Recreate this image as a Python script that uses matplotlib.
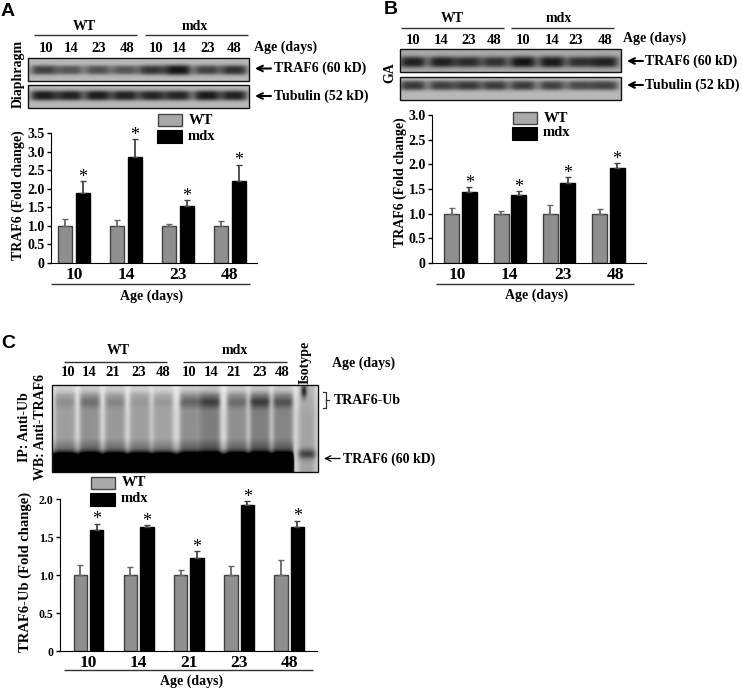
"""Western blot panels with fold change bars (A diaphragm, B GA, C ubiquitination)."""
import numpy as np
import matplotlib
matplotlib.use("Agg")
import matplotlib.pyplot as plt
from matplotlib.patches import Rectangle

plt.rcParams["font.family"] = ["Liberation Serif", "DejaVu Serif"]

W, H = 742, 690

# panel A
ages_a = ["10", "14", "23", "48"]
wt_a = [1.0, 1.0, 1.0, 1.0]
wt_a_err = [0.18, 0.15, 0.05, 0.12]
mdx_a = [1.88, 2.85, 1.53, 2.2]
mdx_a_err = [0.32, 0.48, 0.17, 0.45]
yticks_a = [0, 0.5, 1.0, 1.5, 2.0, 2.5, 3.0, 3.5]

# panel B
ages_b = ["10", "14", "23", "48"]
wt_b = [1.0, 1.0, 1.0, 1.0]
wt_b_err = [0.12, 0.05, 0.18, 0.1]
mdx_b = [1.43, 1.38, 1.62, 1.92]
mdx_b_err = [0.11, 0.07, 0.13, 0.11]
yticks_b = [0, 0.5, 1.0, 1.5, 2.0, 2.5, 3.0]

# panel C
ages_c = ["10", "14", "21", "23", "48"]
wt_c = [1.0, 1.0, 1.0, 1.0, 1.0]
wt_c_err = [0.13, 0.11, 0.07, 0.12, 0.2]
mdx_c = [1.6, 1.63, 1.22, 1.93, 1.63]
mdx_c_err = [0.08, 0.03, 0.1, 0.05, 0.09]
yticks_c = [0, 0.5, 1.0, 1.5, 2.0]

# blot band strengths, read by eye
a_traf6 = [0.72, 0.6, 0.62, 0.6, 0.8, 1.0, 0.72, 0.82]
a_tubulin = [0.95, 0.92, 0.95, 0.92, 0.9, 0.9, 0.97, 0.92]
b_traf6 = [0.92, 0.92, 0.85, 0.8, 1.0, 0.97, 0.82, 0.92]
b_tubulin = [0.78, 0.74, 0.78, 0.76, 0.76, 0.72, 0.68, 0.72]
c_ub = [0.1, 0.17, 0.11, 0.06, 0.08, 0.2, 0.28, 0.17, 0.3, 0.23]
c_smear = [0.22, 0.27, 0.24, 0.22, 0.2, 0.28, 0.35, 0.28, 0.34, 0.32]

fig = plt.figure(figsize=(W / 100, H / 100), dpi=100)
over = fig.add_axes([0, 0, 1, 1], zorder=3)
over.patch.set_alpha(0)
over.axis("off")


def px_text(x, y, s, size=9.8, ha="left", rot=0, weight="bold", **kw):
    over.text(x, y, s, fontsize=size, ha=ha, va="center", rotation=rot,
              fontweight=weight, **kw)


def px_line(x0, x1, y, color="#333333", lw=1.0):
    over.plot([x0, x1], [y, y], color=color, lw=lw, solid_capstyle="butt")


def arrow(x_tail, x_head, y, lw=1.5):
    over.annotate("", xy=(x_head, y), xytext=(x_tail, y),
                  arrowprops=dict(arrowstyle="->", color="black", lw=lw,
                                  shrinkA=0, shrinkB=0, mutation_scale=10))


def band_blot(x0, x1, y0, y1, centers, strengths, band_y, bg=0.72, sx=13.5, sy=4.0):
    xs = np.arange(x0, x1) + 0.5
    ys = np.arange(y0, y1) + 0.5
    gx, gy = np.meshgrid(xs, ys)
    img = np.full(gx.shape, bg)
    for c, s in zip(centers, strengths):
        shape = np.exp(-((gx - c) / sx) ** 4 - np.abs((gy - band_y) / (sy + 1.2 * s)) ** 3)
        img -= s * (bg - 0.08) * shape
    over.imshow(np.clip(img, 0, 1), cmap="gray", vmin=0, vmax=1, aspect="auto",
                extent=(x0, x1, y1, y0), interpolation="bilinear")
    over.add_patch(Rectangle((x0, y0), x1 - x0, y1 - y0, fill=False, ec="#111111", lw=1.0))


def ub_blot(x0, x1, y0, y1, centers, ub, smear):
    xs = np.arange(x0, x1) + 0.5
    ys = np.arange(y0, y1) + 0.5
    gx, gy = np.meshgrid(xs, ys)
    img = np.full(gx.shape, 0.92)
    # gel greys out across all lanes a little
    img -= 0.08 * np.clip((gy - y0) / 30, 0, 1)
    for c, u, s in zip(centers, ub, smear):
        lane = np.exp(-((gx - c) / 10.5) ** 6)
        body = s * np.clip((gy - y0) / 10, 0.45, 1)
        band = u * np.exp(-((gy - 402) / 6) ** 2)
        img -= lane * np.clip(body + band, 0, 1)
    # dark TRAF6 blob along the bottom
    limit = np.clip((295 - gx) / 3, 0, 1)
    img -= 0.25 * np.clip((gy - 438) / 14, 0, 1) * limit
    img -= 0.98 * np.exp(-((gy - 465) / 12) ** 4) * limit
    # isotype lane
    iso = np.exp(-((gx - 307) / 9) ** 4)
    img -= 0.2 * iso
    img -= 0.38 * iso * np.exp(-((gy - 454) / 5) ** 2)
    img -= 0.55 * np.exp(-((gx - 304) / 3) ** 2 - ((gy - 391) / 7) ** 2)
    over.imshow(np.clip(img, 0, 1), cmap="gray", vmin=0, vmax=1, aspect="auto",
                extent=(x0, x1, y1, y0), interpolation="bilinear")
    over.add_patch(Rectangle((x0, y0), x1 - x0, y1 - y0, fill=False, ec="#111111", lw=1.0))


def legend(x, y_wt, y_mdx, wid=24):
    over.add_patch(Rectangle((x, y_wt), wid, 12, fc="#a9a9a9", ec="#444444", lw=1.0))
    over.add_patch(Rectangle((x - 1, y_mdx), wid + 1, 12.5, fc="black", ec="black", lw=0.8))
    px_text(x + 31, y_wt + 6, "WT", size=10.5)
    px_text(x + 30, y_mdx + 6, "mdx", size=10.5)


def bars(box, first, step, off, bw, ages, wt, wt_err, mdx, mdx_err, yticks, ymax,
         xsize=12.5, ysize=10, tick_scale=1.0, tick_shift=0.0):
    left, right, top, bottom = box
    ax = fig.add_axes([left / W, 1 - bottom / H, (right - left) / W, (bottom - top) / H])
    x = np.arange(len(ages))
    o = off / step
    b = bw / step
    ax.bar(x - o, wt, b, color="#8f8f8f", edgecolor="#404040", linewidth=1.0)
    ax.bar(x + o, mdx, b, color="black", edgecolor="black", linewidth=1.0)
    ax.errorbar(x - o, wt, yerr=[np.zeros(len(wt)), wt_err], fmt="none", ecolor="#666666",
                elinewidth=1.3, capsize=2.2, capthick=1.0)
    ax.errorbar(x + o, mdx, yerr=[np.zeros(len(mdx)), mdx_err], fmt="none", ecolor="#444444",
                elinewidth=1.3, capsize=2.2, capthick=1.0)
    for xi, m, e in zip(x, mdx, mdx_err):
        ax.annotate("*", (xi + o, m + e), xytext=(0, -3.5), textcoords="offset points",
                    ha="center", va="bottom", fontsize=13)
    ax.set_xlim((left - first) / step, (right - first) / step)
    ax.set_ylim(0, ymax)
    ax.set_xticks(x * tick_scale + tick_shift)
    ax.set_xticklabels(ages, fontsize=xsize, fontweight="bold")
    ax.set_yticks(yticks)
    ax.set_yticklabels([("0" if t == 0 else f"{t:.1f}") for t in yticks],
                       fontsize=ysize, fontweight="bold")
    ax.tick_params(axis="x", length=0, pad=3)
    ax.tick_params(axis="y", length=3, width=1, pad=1.5)
    ax.spines["top"].set_visible(False)
    ax.spines["right"].set_visible(False)
    return ax


# panel A
px_text(1, 11, "A", size=14, family="Liberation Sans")
px_text(84, 26, "WT", size=10, ha="center")
px_text(195, 26, "mdx", size=10, ha="center")
px_line(34, 137, 35)
px_line(145, 248, 35)
for xp, s in zip([46, 71, 99, 127, 156, 179, 208, 234], ages_a + ages_a):
    px_text(xp, 48, s, size=10.5, ha="center")
px_text(254, 47, "Age (days)", size=10)
band_blot(28, 249, 58, 81, [44, 70, 98, 125, 152, 178, 207, 234], a_traf6, 70)
band_blot(28, 249, 85, 108, [44, 70, 98, 125, 152, 178, 207, 234], a_tubulin, 95.5)
arrow(271, 255, 68.5)
arrow(271, 255, 96)
px_text(274, 68, "TRAF6 (60 kD)", size=10)
px_text(274, 96, "Tubulin (52 kD)", size=10)
px_text(18, 74, "Diaphragm", size=10, ha="center", rot=90)
legend(158, 114, 130)
bars((51, 257, 133, 263), 74, 52, 8.6, 14, ages_a, wt_a, wt_a_err, mdx_a, mdx_a_err,
     yticks_a, 3.5)
px_text(18, 195, "TRAF6 (Fold change)", size=10, ha="center", rot=90)
px_line(51, 250, 284)
px_text(152, 296, "Age (days)", size=10, ha="center")

# panel B
px_text(384, 10, "B", size=14, family="Liberation Sans")
px_text(452, 18, "WT", size=10, ha="center")
px_text(559, 18, "mdx", size=10, ha="center")
px_line(401, 504, 27.5)
px_line(511, 614, 27.5)
for xp, s in zip([413, 441, 469, 494, 523, 552, 576, 605], ages_b + ages_b):
    px_text(xp, 40, s, size=10.5, ha="center")
px_text(623, 38, "Age (days)", size=10)
band_blot(400, 621, 49, 72, [413, 442, 468, 495, 523, 552, 580, 605], b_traf6, 62, bg=0.66, sy=4.5)
band_blot(400, 621, 77, 100, [413, 442, 468, 495, 523, 552, 580, 605], b_tubulin, 85.5)
arrow(643, 627, 61)
arrow(643, 627, 85)
px_text(645, 61, "TRAF6 (60 kD)", size=10)
px_text(645, 85, "Tubulin (52 kD)", size=10)
px_text(390, 73, "GA", size=10, ha="center", rot=90)
legend(513, 112, 127)
bars((432, 646, 115, 263), 460.5, 49.3, 8.7, 15, ages_b, wt_b, wt_b_err, mdx_b, mdx_b_err,
     yticks_b, 3.0, tick_scale=1.07, tick_shift=-0.07)
px_text(400, 182, "TRAF6 (Fold change)", size=10, ha="center", rot=90)
px_line(436, 634, 283.5)
px_text(537, 295, "Age (days)", size=10, ha="center")

# panel C
px_text(1, 343, "C", size=14, family="Liberation Sans")
px_text(118, 350, "WT", size=10, ha="center")
px_text(235, 350, "mdx", size=10, ha="center")
px_line(64, 167, 361.5)
px_line(183, 287, 361.5)
for xp, s in zip([68, 89, 113, 139, 163, 189, 211, 234, 260, 282], ages_c + ages_c):
    px_text(xp, 372, s, size=10.5, ha="center")
px_text(305, 362, "Isotype", size=10, ha="center", rot=90)
px_text(332, 363, "Age (days)", size=10)
ub_blot(52, 318, 385, 472, [65, 90, 115, 140, 163, 190, 210, 237, 260, 283], c_ub, c_smear)
over.plot([323, 326, 326, 323], [392, 392, 408, 408], color="#333333", lw=0.9)
over.plot([326, 329], [400, 400], color="#333333", lw=0.9)
px_text(334, 401, "TRAF6-Ub", size=10)
arrow(340, 324, 458.5, lw=0.9)
px_text(343, 459, "TRAF6 (60 kD)", size=10)
px_text(24, 427, "IP: Anti-Ub", size=10, ha="center", rot=90)
px_text(41, 427, "WB: Anti-TRAF6", size=10, ha="center", rot=90)
legend(91, 477, 493)
bars((60, 317, 499.3, 651), 88.5, 50.2, 8.2, 13.5, ages_c, wt_c, wt_c_err, mdx_c, mdx_c_err,
     yticks_c, 2.0, ysize=8.5)
px_text(25, 572, "TRAF6-Ub (Fold change)", size=10.5, ha="center", rot=90)
px_line(64, 313, 670)
px_text(192, 681, "Age (days)", size=10, ha="center")

over.set_xlim(0, W)
over.set_ylim(H, 0)

fig.savefig("out.png", dpi=100)
